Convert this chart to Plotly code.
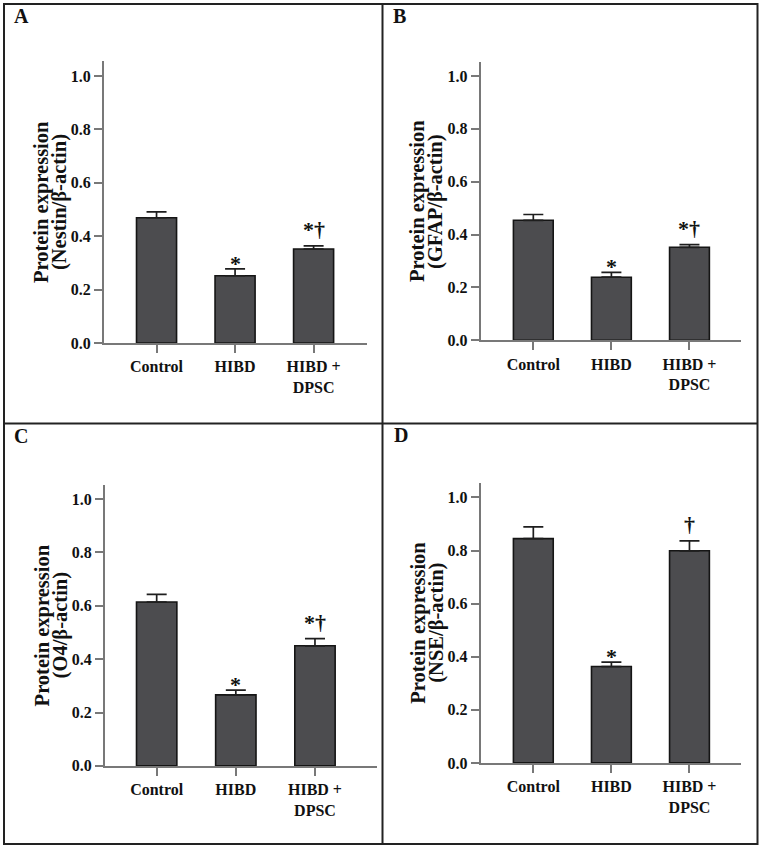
import plotly.graph_objects as go

# ---- data ----
categories = ["Control", "HIBD", "HIBD +<br>DPSC"]
y_ticks = [0.0, 0.2, 0.4, 0.6, 0.8, 1.0]
y_ticktext = ["0.0", "0.2", "0.4", "0.6", "0.8", "1.0"]

nestin = [0.469, 0.252, 0.352]
nestin_err = [0.022, 0.026, 0.012]
gfap = [0.454, 0.239, 0.352]
gfap_err = [0.022, 0.018, 0.010]
o4 = [0.614, 0.266, 0.450]
o4_err = [0.029, 0.018, 0.027]
nse = [0.845, 0.363, 0.799]
nse_err = [0.044, 0.017, 0.037]

sig_abc = ["", "*", "*†"]
sig_d = ["", "*", "†"]

panel_letters = ["A", "B", "C", "D"]
y_titles = ["(Nestin/β-actin)", "(GFAP/β-actin)", "(O4/β-actin)", "(NSE/β-actin)"]

W, H = 763, 859
FONT = "Liberation Serif, Times New Roman, serif"
BAR_FILL = "#4c4c4f"
AXIS_COL = "#787878"

# layout geometry per panel (pixels): y-axis x, x-axis end, y of 0, y of 1.0, axis top, x-range
panels = [
    dict(x0=104, x1=367, y0=346.7, y1=76.7, top=61.7, xr=[-0.669, 2.68]),
    dict(x0=480.7, x1=741, y0=344, y1=76.7, top=62.7, xr=[-0.674, 2.66]),
    dict(x0=105, x1=376.7, y0=774, y1=504.3, top=490, xr=[-0.653, 2.78]),
    dict(x0=480.7, x1=741, y0=771, y1=502.7, top=488.3, xr=[-0.674, 2.66]),
]
letter_pos = [(21, 16), (399.5, 16), (21, 440.5), (400.5, 440)]

values = [nestin, gfap, o4, nse]
errors = [nestin_err, gfap_err, o4_err, nse_err]
sigs = [sig_abc, sig_abc, sig_abc, sig_d]

fig = go.Figure()
annotations = []
layout_axes = {}

for i, p in enumerate(panels):
    n = i + 1
    xa = "x" if n == 1 else f"x{n}"
    ya = "y" if n == 1 else f"y{n}"
    xkey = "xaxis" if n == 1 else f"xaxis{n}"
    ykey = "yaxis" if n == 1 else f"yaxis{n}"
    vals = values[i]
    errs = errors[i]
    fig.add_trace(go.Bar(
        x=[0, 1, 2], y=vals, width=0.51,
        marker=dict(color=BAR_FILL, line=dict(color="#151515", width=1.6)),
        error_y=dict(type="data", symmetric=False, array=errs, arrayminus=[0, 0, 0],
                     color="#1e1e1e", thickness=1.7, width=10),
        xaxis=xa, yaxis=ya, showlegend=False, hoverinfo="skip",
    ))
    yrange_top = (p["y0"] - p["top"]) / (p["y0"] - p["y1"])
    layout_axes[xkey] = dict(
        domain=[p["x0"] / W, p["x1"] / W], range=p["xr"], anchor=ya,
        tickmode="array", tickvals=[0, 1, 2], ticktext=categories,
        ticks="outside", ticklen=8, tickwidth=2, tickcolor=AXIS_COL,
        showline=True, linecolor=AXIS_COL, linewidth=2,
        showgrid=False, zeroline=False, fixedrange=True,
        tickfont=dict(family=FONT, size=16, color="#111", weight="bold"),
    )
    layout_axes[ykey] = dict(
        domain=[1 - p["y0"] / H, 1 - p["top"] / H], range=[0, yrange_top], anchor=xa,
        tickmode="array", tickvals=y_ticks, ticktext=y_ticktext,
        ticks="outside", ticklen=8, tickwidth=2, tickcolor=AXIS_COL,
        showline=True, linecolor=AXIS_COL, linewidth=2,
        showgrid=False, zeroline=False, fixedrange=True,
        tickfont=dict(family=FONT, size=16, color="#111", weight="bold"),
    )
    # significance marks
    for j in range(3):
        lab = sigs[i][j]
        if lab:
            annotations.append(dict(
                x=j, y=vals[j] + errs[j], xref=xa, yref=ya, text=lab,
                showarrow=False, xanchor="center", yanchor="bottom",
                yshift=(2 if "†" in lab else -9),
                font=dict(family=FONT, size=22, color="#111", weight="bold"),
            ))
    # y-axis titles (two lines)
    ymid = 1 - ((p["y0"] + p["top"]) / 2) / H
    annotations.append(dict(
        x=(p["x0"] - 63) / W, y=ymid, xref="paper", yref="paper",
        text="Protein expression", textangle=-90, showarrow=False,
        xanchor="center", yanchor="middle",
        font=dict(family=FONT, size=20.5, color="#111", weight="bold"),
    ))
    annotations.append(dict(
        x=(p["x0"] - 45) / W, y=ymid, xref="paper", yref="paper",
        text=y_titles[i], textangle=-90, showarrow=False,
        xanchor="center", yanchor="middle",
        font=dict(family=FONT, size=20.5, color="#111", weight="bold"),
    ))
    # panel letter
    lx, ly = letter_pos[i]
    annotations.append(dict(
        x=lx / W, y=1 - ly / H, xref="paper", yref="paper",
        text=panel_letters[i], showarrow=False, xanchor="center", yanchor="middle",
        font=dict(family=FONT, size=20, color="#111", weight="bold"),
    ))

# panel borders
shapes = [
    dict(type="rect", xref="paper", yref="paper", x0=4 / W, x1=757.5 / W,
         y0=1 - 853 / H, y1=1 - 4 / H, line=dict(color="#222", width=2)),
    dict(type="line", xref="paper", yref="paper", x0=382.5 / W, x1=382.5 / W,
         y0=1 - 853 / H, y1=1 - 4 / H, line=dict(color="#222", width=2)),
    dict(type="line", xref="paper", yref="paper", x0=4 / W, x1=757.5 / W,
         y0=1 - 428 / H, y1=1 - 428 / H, line=dict(color="#222", width=2)),
]

fig.update_layout(
    width=W, height=H, margin=dict(l=0, r=0, t=0, b=0),
    paper_bgcolor="white", plot_bgcolor="white",
    font=dict(family=FONT, color="#111"),
    annotations=annotations, shapes=shapes, bargap=0,
    **layout_axes,
)

fig.write_html(
    "out.html",
    config={"displayModeBar": False, "staticPlot": True},
    post_script="document.body.style.margin='0';document.body.style.overflow='hidden';",
)
